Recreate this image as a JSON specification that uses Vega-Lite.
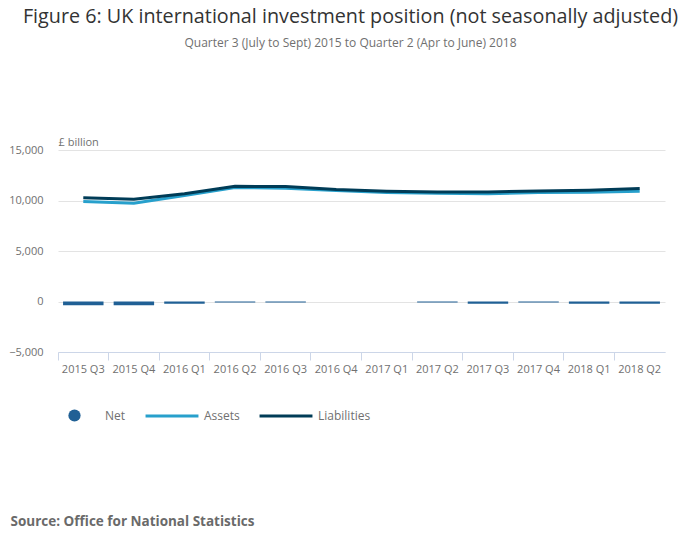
{
  "$schema": "https://vega.github.io/schema/vega-lite/v6.json",
  "autosize": "none",
  "width": 607,
  "height": 202,
  "padding": {"left": 58, "top": 150, "right": 35, "bottom": 197},
  "background": "white",
  "config": {
    "font": "Open Sans",
    "view": {"stroke": null},
    "legend": {"padding": 0, "title": null, "labelFontSize": 12, "labelColor": "#707070"}
  },
  "title": {
    "text": "Figure 6: UK international investment position (not seasonally adjusted)",
    "subtitle": "Quarter 3 (July to Sept) 2015 to Quarter 2 (Apr to June) 2018",
    "fontSize": 19.75,
    "fontWeight": "normal",
    "color": "#333333",
    "subtitleFontSize": 12,
    "subtitleColor": "#707070",
    "subtitlePadding": 11,
    "anchor": "middle",
    "dx": -11,
    "offset": 87
  },
  "data": {
    "values": [
      {"quarter": "2015 Q3", "series": "Net", "value": -360},
      {"quarter": "2015 Q4", "series": "Net", "value": -380},
      {"quarter": "2016 Q1", "series": "Net", "value": -230},
      {"quarter": "2016 Q2", "series": "Net", "value": -110},
      {"quarter": "2016 Q3", "series": "Net", "value": -110},
      {"quarter": "2016 Q4", "series": "Net", "value": 0},
      {"quarter": "2017 Q1", "series": "Net", "value": 0},
      {"quarter": "2017 Q2", "series": "Net", "value": -90},
      {"quarter": "2017 Q3", "series": "Net", "value": -230},
      {"quarter": "2017 Q4", "series": "Net", "value": -90},
      {"quarter": "2018 Q1", "series": "Net", "value": -230},
      {"quarter": "2018 Q2", "series": "Net", "value": -230},
      {"quarter": "2015 Q3", "series": "Assets", "value": 9900},
      {"quarter": "2015 Q4", "series": "Assets", "value": 9730},
      {"quarter": "2016 Q1", "series": "Assets", "value": 10490},
      {"quarter": "2016 Q2", "series": "Assets", "value": 11280},
      {"quarter": "2016 Q3", "series": "Assets", "value": 11210},
      {"quarter": "2016 Q4", "series": "Assets", "value": 10990},
      {"quarter": "2017 Q1", "series": "Assets", "value": 10790},
      {"quarter": "2017 Q2", "series": "Assets", "value": 10720},
      {"quarter": "2017 Q3", "series": "Assets", "value": 10660},
      {"quarter": "2017 Q4", "series": "Assets", "value": 10790},
      {"quarter": "2018 Q1", "series": "Assets", "value": 10820},
      {"quarter": "2018 Q2", "series": "Assets", "value": 10920},
      {"quarter": "2015 Q3", "series": "Liabilities", "value": 10270},
      {"quarter": "2015 Q4", "series": "Liabilities", "value": 10130},
      {"quarter": "2016 Q1", "series": "Liabilities", "value": 10660},
      {"quarter": "2016 Q2", "series": "Liabilities", "value": 11400},
      {"quarter": "2016 Q3", "series": "Liabilities", "value": 11380},
      {"quarter": "2016 Q4", "series": "Liabilities", "value": 11080},
      {"quarter": "2017 Q1", "series": "Liabilities", "value": 10920},
      {"quarter": "2017 Q2", "series": "Liabilities", "value": 10850},
      {"quarter": "2017 Q3", "series": "Liabilities", "value": 10850},
      {"quarter": "2017 Q4", "series": "Liabilities", "value": 10950},
      {"quarter": "2018 Q1", "series": "Liabilities", "value": 11020},
      {"quarter": "2018 Q2", "series": "Liabilities", "value": 11180}
    ]
  },
  "encoding": {
    "x": {
      "field": "quarter",
      "type": "ordinal",
      "scale": {"paddingInner": 0, "paddingOuter": 0},
      "axis": {
        "labelAngle": 0,
        "labelFontSize": 11,
        "labelColor": "#707070",
        "labelPadding": 3,
        "domainColor": "#ccd6e8",
        "tickColor": "#ccd6e8",
        "tickSize": 8,
        "bandPosition": 0,
        "grid": false,
        "title": "Source: Office for National Statistics",
        "titleFontSize": 13.5,
        "titleFontWeight": "bold",
        "titleColor": "#6a6a6a",
        "titleAlign": "left",
        "titleBaseline": "middle",
        "titleX": -48,
        "titleY": 169
      }
    },
    "y": {
      "field": "value",
      "type": "quantitative",
      "scale": {"domain": [-5000, 15000], "nice": false},
      "axis": {
        "values": [-5000, 0, 5000, 10000, 15000],
        "format": ",.0f",
        "domain": false,
        "ticks": false,
        "labelPadding": 15,
        "labelFontSize": 11,
        "labelColor": "#707070",
        "gridColor": "#e3e3e3",
        "title": "£ billion",
        "titleAngle": 0,
        "titleAlign": "left",
        "titleBaseline": "bottom",
        "titleX": 0,
        "titleY": -3,
        "titleFontSize": 11,
        "titleFontWeight": "normal",
        "titleColor": "#707070"
      }
    }
  },
  "layer": [
    {
      "transform": [{"filter": "datum.series === 'Net'"}],
      "mark": {"type": "bar", "width": {"band": 0.8}},
      "encoding": {
        "fill": {
          "field": "series",
          "type": "nominal",
          "scale": {"domain": ["Net"], "range": ["#206095"]},
          "legend": {
            "orient": "none",
            "legendX": 10,
            "legendY": 259,
            "symbolType": "circle",
            "symbolSize": 150,
            "symbolStrokeWidth": 0,
            "labelOffset": 24
          }
        }
      }
    },
    {
      "transform": [{"filter": "datum.series !== 'Net'"}],
      "mark": {"type": "line", "strokeWidth": 3},
      "encoding": {
        "stroke": {
          "field": "series",
          "type": "nominal",
          "scale": {"domain": ["Assets", "Liabilities"], "range": ["#27a0cc", "#003c57"]},
          "legend": {
            "orient": "none",
            "direction": "horizontal",
            "legendX": 86,
            "legendY": 238,
            "symbolType": "stroke",
            "symbolSize": 2800,
            "symbolStrokeWidth": 3,
            "labelOffset": 4,
            "columnPadding": 13
          }
        }
      }
    }
  ]
}
